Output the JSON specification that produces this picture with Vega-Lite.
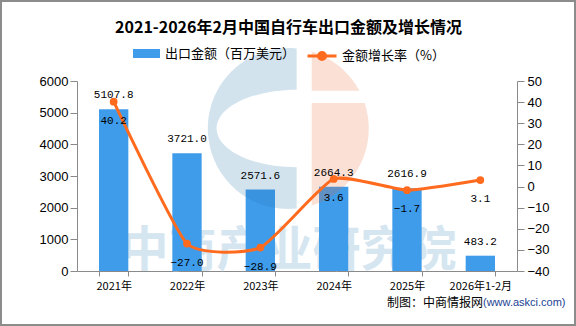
{
  "$schema": "https://vega.github.io/schema/vega-lite/v6.json",
  "width": 440,
  "height": 190,
  "autosize": {"type": "none"},
  "padding": {"left": 77, "top": 81, "right": 59, "bottom": 55},
  "background": "white",
  "data": {
    "values": [
      {"year": "2021年", "amount": 5107.8, "growth": 40.2},
      {"year": "2022年", "amount": 3721.0, "growth": -27.0},
      {"year": "2023年", "amount": 2571.6, "growth": -28.9},
      {"year": "2024年", "amount": 2664.3, "growth": 3.6},
      {"year": "2025年", "amount": 2616.9, "growth": -1.7},
      {"year": "2026年1-2月", "amount": 483.2, "growth": 3.1}
    ]
  },
  "layer": [
    {
      "data": {"values": [{"t": "2021-2026年2月中国自行车出口金额及增长情况"}]},
      "mark": {"type": "text", "font": "Noto Sans CJK SC", "fontWeight": "bold", "fontSize": 16, "color": "#000000", "align": "center", "baseline": "middle"},
      "encoding": {"x": {"value": 211.5}, "y": {"value": -53.4}, "text": {"field": "t"}}
    },
    {
      "data": {"values": [{"t": "中商产业研究院"}]},
      "mark": {"type": "text", "font": "Noto Sans CJK SC", "fontWeight": "bold", "fontSize": 48, "color": "#d5e6f1", "align": "center", "baseline": "middle"},
      "encoding": {"x": {"value": 211.5}, "y": {"value": 171}, "text": {"field": "t"}}
    },
    {
      "mark": {"type": "bar"},
      "encoding": {
        "x": {
          "field": "year", "type": "nominal", "sort": null,
          "scale": {"paddingInner": 0.6, "paddingOuter": 0.3},
          "axis": {
            "title": null, "labelAngle": 0, "tickBand": "extent",
            "domainColor": "#8a8a8a", "tickColor": "#8a8a8a", "tickSize": 5,
            "labelFont": "Noto Sans CJK SC", "labelFontSize": 11, "labelColor": "#000000", "labelPadding": 4
          }
        },
        "y": {
          "field": "amount", "type": "quantitative",
          "scale": {"domain": [0, 6000], "nice": false},
          "axis": {
            "title": null, "orient": "left", "values": [0, 1000, 2000, 3000, 4000, 5000, 6000], "format": "d",
            "domainColor": "#8a8a8a", "tickColor": "#8a8a8a", "tickSize": 7, "labelPadding": 2,
            "labelFont": "Liberation Sans", "labelFontSize": 13, "labelColor": "#000000", "grid": false
          }
        },
        "fill": {
          "datum": "出口金额（百万美元）",
          "scale": {"range": ["#3F9CEB"]},
          "legend": {
            "orient": "none", "legendX": 56, "legendY": -41, "title": null, "padding": 0,
            "symbolType": "M-1,-0.333H1V0.333H-1Z", "symbolSize": 729, "symbolStrokeWidth": 0,
            "labelFont": "Noto Sans CJK SC", "labelFontSize": 13, "labelColor": "#000000", "labelOffset": 5
          }
        }
      }
    },
    {
      "data": {"values": [{"part": "c"}]},
      "mark": {"type": "point", "filled": true, "color": "#2373aa", "opacity": 0.2, "strokeWidth": 0,
        "shape": "M0.104,-0.9946A1,1,0,1,0,0.104,0.9946L0.104,0.482A0.994,0.482,0,0,1,0.104,-0.482Z"},
      "encoding": {"x": {"value": 211.3}, "y": {"value": 47.5}, "size": {"value": 25921}}
    },
    {
      "data": {"values": [{"part": "i"}]},
      "mark": {"type": "point", "filled": true, "color": "#eb642d", "opacity": 0.2, "strokeWidth": 0,
        "shape": "M0.291,-0.9567A1,1,0,0,1,0.8827,-0.47L0.291,-0.47ZM0.291,-0.317L0.9484,-0.317A1,1,0,0,1,0.291,0.9567Z"},
      "encoding": {"x": {"value": 211.3}, "y": {"value": 47.5}, "size": {"value": 25921}}
    },
    {
      "mark": {"type": "line", "interpolate": "cardinal", "tension": 0.5, "strokeWidth": 3},
      "encoding": {
        "x": {"field": "year", "type": "nominal", "sort": null},
        "y": {
          "field": "growth", "type": "quantitative",
          "scale": {"domain": [-40, 50], "nice": false},
          "axis": {
            "title": null, "orient": "right", "values": [-40, -30, -20, -10, 0, 10, 20, 30, 40, 50],
            "domainColor": "#8a8a8a", "tickColor": "#8a8a8a", "tickSize": 7, "labelPadding": 3,
            "labelFont": "Liberation Sans", "labelFontSize": 13, "labelColor": "#000000", "grid": false
          }
        },
        "stroke": {
          "datum": "金额增长率（%）",
          "scale": {"range": ["#FF6B1E"]},
          "legend": {
            "orient": "none", "legendX": 229, "legendY": -41, "title": null, "padding": 0,
            "symbolType": "M-1,0H1M-0.24,0A0.24,0.24,0,1,1,0.24,0A0.24,0.24,0,1,1,-0.24,0Z",
            "symbolSize": 841, "symbolStrokeWidth": 3, "symbolFillColor": "#FF6B1E", "symbolStrokeColor": "#FF6B1E",
            "labelFont": "Noto Sans CJK SC", "labelFontSize": 13, "labelColor": "#000000", "labelOffset": 4,
            "encode": {"symbols": {"update": {"fill": {"value": "#FF6B1E"}, "stroke": {"value": "#FF6B1E"}}}}
          }
        }
      }
    },
    {
      "mark": {"type": "point", "filled": true, "size": 60, "opacity": 1, "color": "#FF6B1E"},
      "encoding": {
        "x": {"field": "year", "type": "nominal", "sort": null},
        "y": {"field": "growth", "type": "quantitative", "scale": {"domain": [-40, 50], "nice": false}, "axis": null}
      }
    },
    {
      "mark": {"type": "text", "baseline": "middle", "align": "center", "dy": -14, "font": "Liberation Mono", "fontSize": 11, "color": "#000000"},
      "encoding": {
        "x": {"field": "year", "type": "nominal", "sort": null},
        "y": {"field": "amount", "type": "quantitative", "scale": {"domain": [0, 6000], "nice": false}, "axis": null},
        "text": {"field": "amount", "type": "quantitative", "format": ".1f"}
      }
    },
    {
      "mark": {"type": "text", "baseline": "middle", "align": "center", "dy": 19, "font": "Liberation Mono", "fontSize": 11, "color": "#000000"},
      "encoding": {
        "x": {"field": "year", "type": "nominal", "sort": null},
        "y": {"field": "growth", "type": "quantitative", "scale": {"domain": [-40, 50], "nice": false}, "axis": null},
        "text": {"field": "growth", "type": "quantitative", "format": ".1f"}
      }
    },
    {
      "data": {"values": [{"t": "制图：中商情报网"}]},
      "mark": {"type": "text", "font": "Noto Sans CJK SC", "fontSize": 12, "color": "#000000", "align": "right", "baseline": "middle"},
      "encoding": {"x": {"value": 406}, "y": {"value": 221.7}, "text": {"field": "t"}}
    },
    {
      "data": {"values": [{"t": "(www.askci.com)"}]},
      "mark": {"type": "text", "font": "Liberation Sans", "fontSize": 11, "color": "#1c3f94", "align": "left", "baseline": "middle"},
      "encoding": {"x": {"value": 406}, "y": {"value": 221.7}, "text": {"field": "t"}}
    },
    {
      "data": {"values": [{"frame": 1}]},
      "mark": {"type": "rect", "fill": null, "stroke": "#8c8c8c", "strokeWidth": 2},
      "encoding": {"x": {"value": -76}, "x2": {"value": 498}, "y": {"value": -80}, "y2": {"value": 244}}
    }
  ],
  "resolve": {"scale": {"y": "independent"}},
  "config": {
    "view": {"stroke": null},
    "axis": {"grid": false}
  }
}
